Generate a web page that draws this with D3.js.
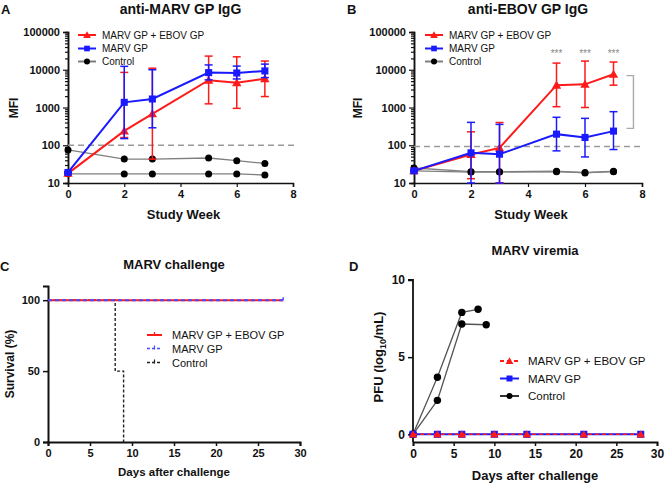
<!DOCTYPE html>
<html><head><meta charset="utf-8">
<script src="https://cdn.jsdelivr.net/npm/d3@7"></script>
<style>
body{margin:0;background:#fff;}
svg{display:block;font-family:Arial,"Liberation Sans",Helvetica,sans-serif;}
</style></head>
<body><svg id="chart" width="670" height="488"></svg>
<script>
// ---------- DATA ----------
const weeks = [0, 2, 3, 5, 6, 7];
const seriesNames = ["MARV GP + EBOV GP", "MARV GP", "Control"];

// Panel A: anti-MARV GP IgG (MFI)
const aDualMean = [18, 240, 680, 5300, 4500, 5800];
const aDualLo   = [17, 160, 43, 1250, 950, 1950];
const aDualHi   = [19, 8500, 11000, 23000, 22000, 17000];
const aMarvMean = [19, 1370, 1680, 8400, 8200, 9300];
const aMarvLo   = [18, 150, 290, 5400, 5700, 6200];
const aMarvHi   = [20, 12300, 10000, 13400, 12500, 14100];
const aCtrl1    = [75, 43, 43, 46, 39, 33];
const aCtrl2    = [17.5, 17.4, 17.4, 17.4, 17.4, 16.3];
const aCutoff   = 100;

// Panel B: anti-EBOV GP IgG (MFI)
const bDualMean = [21, 57, 85, 3900, 4100, 7600];
const bDualLo   = [20, 13, 10, 1050, 1000, 3900];
const bDualHi   = [22, 227, 400, 15000, 17000, 16000];
const bMarvMean = [21, 63, 58, 197, 161, 237];
const bMarvLo   = [20, 10, 10, 71, 49, 77];
const bMarvHi   = [22, 404, 357, 550, 516, 775];
const bCtrl1    = [25, 20, 20, 20.5, 18.5, 20.5];
const bCtrl2    = [21, 19.5, 19.5, 20, 19, 20];
const bCutoff   = 93;
const bSigWeeks = [5, 6, 7];
const bSigLabel = "***";

const mfiTicks = [10, 100, 1000, 10000, 100000];
const weekTicks = [0, 2, 4, 6, 8];

// Panel C: MARV challenge survival (%)
const survDualDays = [0, 28], survDualPct = [100, 100];
const survMarvDays = [0, 28], survMarvPct = [100, 100];
const survCtrlDays = [0, 8, 9], survCtrlPct = [100, 50, 0];
const survTicks = [0, 50, 100];
const dayTicks = [0, 5, 10, 15, 20, 25, 30];

// Panel D: MARV viremia PFU (log10/mL)
const viremiaDays = [0, 3, 6, 10, 14, 21, 28];
const viremiaDual = [0, 0, 0, 0, 0, 0, 0];
const viremiaMarv = [0, 0, 0, 0, 0, 0, 0];
const ctrl1Days = [0, 3, 6, 8], ctrl1Pfu = [0, 3.7, 7.9, 8.1];
const ctrl2Days = [0, 3, 6, 9], ctrl2Pfu = [0, 2.2, 7.15, 7.1];
const pfuTicks = [0, 5, 10];

// ---------- STYLE ----------
const RED = "#ff1a1a", BLUE = "#1a1aff", GRAY = "#7f7f7f", DASH = "#9a9a9a";
const svg = d3.select("#chart");

function text(g, x, y, s, o = {}) {
  const t = g.append("text").attr("x", x).attr("y", y).text(s)
    .attr("font-size", o.size || 11).attr("font-weight", o.bold ? "bold" : "normal")
    .attr("text-anchor", o.anchor || "start").attr("fill", o.fill || "#111");
  if (o.rotate) t.attr("transform", `rotate(-90,${x},${y})`);
  return t;
}
function marker(g, type, x, y, color, size) {
  if (type === "circle") {
    g.append("circle").attr("cx", x).attr("cy", y).attr("r", size).attr("fill", color);
  } else {
    const sym = type === "square" ? d3.symbolSquare : d3.symbolTriangle;
    g.append("path").attr("d", d3.symbol().type(sym).size(size)())
      .attr("transform", `translate(${x},${y + (type === "triangle" ? 0.8 : 0)})`).attr("fill", color);
  }
}

// ---------- PANELS A & B ----------
function igPanel(cfg) {
  const g = svg.append("g");
  const x = d3.scaleLinear().domain([0, 8]).range([cfg.x0, cfg.x1]);
  const y = d3.scaleLog().domain([10, 100000]).range([183, 32]);

  // axes
  const xAxis = d3.axisBottom(x).tickValues(weekTicks).tickSize(4).tickFormat(d3.format("d"));
  const xa = g.append("g").attr("transform", "translate(0,183)").call(xAxis);
  const yMinor = [];
  for (let e = 1; e < 5; e++) for (let m = 2; m < 10; m++) yMinor.push(m * Math.pow(10, e));
  g.append("g").attr("transform", `translate(${cfg.x0},0)`)
    .call(d3.axisLeft(y).tickValues(yMinor).tickSize(3).tickFormat(""));
  const ya = g.append("g").attr("transform", `translate(${cfg.x0},0)`)
    .call(d3.axisLeft(y).tickValues(mfiTicks).tickSize(5).tickFormat(d3.format("d")));
  [xa, ya].forEach(a => {
    a.selectAll("text").attr("font-size", 11).attr("font-weight", "bold").attr("fill", "#111")
      .attr("font-family", "Arial, Liberation Sans, sans-serif");
  });
  g.selectAll(".domain").attr("stroke", "#111").attr("stroke-width", 1.5);
  g.selectAll(".tick line").attr("stroke", "#111").attr("stroke-width", 1.2);

  // cutoff
  g.append("line").attr("x1", cfg.x0).attr("x2", cfg.x1 + 2)
    .attr("y1", y(cfg.cutoff)).attr("y2", y(cfg.cutoff))
    .attr("stroke", DASH).attr("stroke-width", 1.6).attr("stroke-dasharray", "6,4");

  const line = d3.line().x(d => x(d[0])).y(d => y(d[1]));
  // control
  cfg.ctrl.forEach(c => {
    const pts = weeks.map((w, i) => [w, c[i]]);
    g.append("path").attr("d", line(pts)).attr("fill", "none").attr("stroke", GRAY).attr("stroke-width", 1.3);
    pts.forEach(p => marker(g, "circle", x(p[0]), y(p[1]), "#000", 3.5));
  });
  // groups
  const groups = [
    { mean: cfg.dualMean, lo: cfg.dualLo, hi: cfg.dualHi, color: RED, sym: "triangle", size: 38 },
    { mean: cfg.marvMean, lo: cfg.marvLo, hi: cfg.marvHi, color: BLUE, sym: "square", size: 50 }
  ];
  groups.forEach(s => {
    const pts = weeks.map((w, i) => [w, s.mean[i]]);
    weeks.forEach((w, i) => {
      const xx = x(w), lo = y(Math.max(10, s.lo[i])), hi = y(s.hi[i]);
      g.append("line").attr("x1", xx).attr("x2", xx).attr("y1", lo).attr("y2", hi)
        .attr("stroke", s.color).attr("stroke-width", 1.5);
      [lo, hi].forEach(yy => g.append("line").attr("x1", xx - 4).attr("x2", xx + 4)
        .attr("y1", yy).attr("y2", yy).attr("stroke", s.color).attr("stroke-width", 1.5));
    });
    g.append("path").attr("d", line(pts)).attr("fill", "none").attr("stroke", s.color).attr("stroke-width", 2);
    pts.forEach(p => marker(g, s.sym, x(p[0]), y(p[1]), s.color, s.size));
  });

  // significance
  if (cfg.sig) {
    cfg.sig.forEach(w => text(g, x(w), 57, bSigLabel, { size: 10, anchor: "middle", fill: "#888" }));
    const bx = x(7.7);
    g.append("path").attr("d", `M${bx - 7},${y(7000)}H${bx}V${y(280)}H${bx - 7}`)
      .attr("fill", "none").attr("stroke", "#aaa").attr("stroke-width", 1.4);
  }

  // legend
  const lx = cfg.legX;
  const lsy = [35, 48.5, 61.5];
  const legItems = [[RED, "triangle", 26], [BLUE, "square", 32], [GRAY, "circle", 3]];
  legItems.forEach((it, i) => {
    g.append("line").attr("x1", lx).attr("x2", lx + 18).attr("y1", lsy[i]).attr("y2", lsy[i])
      .attr("stroke", it[0]).attr("stroke-width", 2);
    marker(g, it[1], lx + 9, lsy[i], it[1] === "circle" ? "#000" : it[0], it[2]);
    text(g, lx + 24, lsy[i] + 3.7, seriesNames[i], { size: 10 });
  });

  // titles
  text(g, (cfg.x0 + cfg.x1) / 2, 14, cfg.title, { size: 14, bold: true, anchor: "middle" });
  text(g, cfg.letterX, 14, cfg.letter, { size: 13, bold: true });
  text(g, (cfg.x0 + cfg.x1) / 2 + 3, 219, "Study Week", { size: 13, bold: true, anchor: "middle" });
  text(g, cfg.yLabX, 108, "MFI", { size: 12, bold: true, anchor: "middle", rotate: true });
}

igPanel({ x0: 68, x1: 293, cutoff: aCutoff, ctrl: [aCtrl1, aCtrl2],
  dualMean: aDualMean, dualLo: aDualLo, dualHi: aDualHi,
  marvMean: aMarvMean, marvLo: aMarvLo, marvHi: aMarvHi,
  legX: 78, title: "anti-MARV GP IgG", letter: "A", letterX: 1, yLabX: 18 });
igPanel({ x0: 414, x1: 642, cutoff: bCutoff, ctrl: [bCtrl1, bCtrl2],
  dualMean: bDualMean, dualLo: bDualLo, dualHi: bDualHi,
  marvMean: bMarvMean, marvLo: bMarvLo, marvHi: bMarvHi, sig: bSigWeeks,
  legX: 425, title: "anti-EBOV GP IgG", letter: "B", letterX: 347, yLabX: 362 });

// ---------- PANEL C ----------
(function () {
  const g = svg.append("g");
  const x = d3.scaleLinear().domain([0, 30]).range([48, 300]);
  const y = d3.scaleLinear().domain([0, 110]).range([442, 286]);
  const xa = g.append("g").attr("transform", "translate(0,442)")
    .call(d3.axisBottom(x).tickValues(dayTicks).tickSize(4));
  const ya = g.append("g").attr("transform", "translate(48,0)")
    .call(d3.axisLeft(y).tickValues(survTicks).tickSize(5));
  [xa, ya].forEach(a => a.selectAll("text").attr("font-size", 11).attr("font-weight", "bold")
    .attr("fill", "#111").attr("font-family", "Arial, Liberation Sans, sans-serif"));
  g.selectAll(".domain").attr("stroke", "#111").attr("stroke-width", 2);
  g.selectAll(".tick line").attr("stroke", "#111").attr("stroke-width", 1.5);

  const step = d3.line().x(d => x(d[0])).y(d => y(d[1])).curve(d3.curveStepAfter);
  const ctrlPts = survCtrlDays.map((d, i) => [d, survCtrlPct[i]]);
  g.append("path").attr("d", step(ctrlPts)).attr("fill", "none").attr("stroke", "#222")
    .attr("stroke-width", 1.4).attr("stroke-dasharray", "3,2");
  const dualPts = survDualDays.map((d, i) => [d, survDualPct[i]]);
  g.append("path").attr("d", step(dualPts)).attr("fill", "none").attr("stroke", RED).attr("stroke-width", 2);
  const marvPts = survMarvDays.map((d, i) => [d, survMarvPct[i]]);
  g.append("path").attr("d", step(marvPts)).attr("fill", "none").attr("stroke", "#4a4aff")
    .attr("stroke-width", 2).attr("stroke-dasharray", "4,3");
  // censor tick at end
  const last = marvPts[marvPts.length - 1];
  g.append("line").attr("x1", x(last[0])).attr("x2", x(last[0])).attr("y1", y(last[1])).attr("y2", y(last[1]) - 3)
    .attr("stroke", "#4a4aff").attr("stroke-width", 1.5);

  // legend
  const ly = [335, 348.5, 362.5];
  const styles = [[RED, null, 2], ["#4a4aff", "3,2", 1.6], ["#222", "3,2", 1.6]];
  styles.forEach((s, i) => {
    const l = g.append("line").attr("x1", 147).attr("x2", 162).attr("y1", ly[i]).attr("y2", ly[i])
      .attr("stroke", s[0]).attr("stroke-width", s[2]);
    if (s[1]) l.attr("stroke-dasharray", s[1]);
    g.append("line").attr("x1", 154.5).attr("x2", 154.5).attr("y1", ly[i] - 3).attr("y2", ly[i] + 1)
      .attr("stroke", s[0]).attr("stroke-width", 1.2);
    text(g, 172, ly[i] + 4, seriesNames[i], { size: 11 });
  });

  text(g, 174, 269, "MARV challenge", { size: 13, bold: true, anchor: "middle" });
  text(g, 0, 271, "C", { size: 13, bold: true });
  text(g, 174, 476, "Days after challenge", { size: 11.5, bold: true, anchor: "middle" });
  text(g, 14, 364, "Survival (%)", { size: 12, bold: true, anchor: "middle", rotate: true });
})();

// ---------- PANEL D ----------
(function () {
  const g = svg.append("g");
  const x = d3.scaleLinear().domain([0, 30]).range([413, 657]);
  const y = d3.scaleLinear().domain([0, 10]).range([434.3, 280]);
  const xa = g.append("g").attr("transform", "translate(0,442)")
    .call(d3.axisBottom(x).tickValues(dayTicks).tickSize(4));
  const ya = g.append("g").attr("transform", "translate(413,0)")
    .call(d3.axisLeft(y).tickValues(pfuTicks).tickSize(5));
  ya.select(".domain").attr("d", `M-5,${y(10)}H0V442`);
  [xa, ya].forEach(a => a.selectAll("text").attr("font-size", 12).attr("font-weight", "bold")
    .attr("fill", "#111").attr("font-family", "Arial, Liberation Sans, sans-serif"));
  g.selectAll(".domain").attr("stroke", "#111").attr("stroke-width", 1.8);
  g.selectAll(".tick line").attr("stroke", "#111").attr("stroke-width", 1.5);

  const line = d3.line().x(d => x(d[0])).y(d => y(d[1]));
  [[ctrl1Days, ctrl1Pfu], [ctrl2Days, ctrl2Pfu]].forEach(c => {
    const pts = c[0].map((d, i) => [d, c[1][i]]);
    g.append("path").attr("d", line(pts)).attr("fill", "none").attr("stroke", "#555").attr("stroke-width", 1.3);
    pts.forEach(p => marker(g, "circle", x(p[0]), y(p[1]), "#000", 3.7));
  });
  const marvPts = viremiaDays.map((d, i) => [d, viremiaMarv[i]]);
  g.append("path").attr("d", line(marvPts)).attr("fill", "none").attr("stroke", BLUE).attr("stroke-width", 2);
  marvPts.forEach(p => marker(g, "square", x(p[0]), y(p[1]), BLUE, 50));
  const dualPts = viremiaDays.map((d, i) => [d, viremiaDual[i]]);
  g.append("path").attr("d", line(dualPts)).attr("fill", "none").attr("stroke", RED)
    .attr("stroke-width", 1.6).attr("stroke-dasharray", "4,3");
  dualPts.forEach(p => marker(g, "triangle", x(p[0]), y(p[1]), RED, 30));

  const ly = [361, 378.5, 396];
  const items = [[RED, "triangle", 26, "4,3"], [BLUE, "square", 36, null], ["#333", "circle", 3, null]];
  items.forEach((it, i) => {
    const l = g.append("line").attr("x1", 500).attr("x2", 519).attr("y1", ly[i]).attr("y2", ly[i])
      .attr("stroke", it[0]).attr("stroke-width", 2);
    if (it[3]) l.attr("stroke-dasharray", it[3]);
    marker(g, it[1], 509.5, ly[i], it[1] === "circle" ? "#000" : it[0], it[2]);
    text(g, 528, ly[i] + 4.2, seriesNames[i], { size: 11.5 });
  });

  text(g, 535, 255, "MARV viremia", { size: 13, bold: true, anchor: "middle" });
  text(g, 349, 271, "D", { size: 13, bold: true });
  text(g, 535, 480, "Days after challenge", { size: 13, bold: true, anchor: "middle" });
  const yl = g.append("text").attr("transform", "translate(383,357) rotate(-90)")
    .attr("text-anchor", "middle").attr("font-size", 13).attr("font-weight", "bold").attr("fill", "#111");
  yl.append("tspan").text("PFU (log");
  yl.append("tspan").text("10").attr("font-size", 9).attr("dy", 3);
  yl.append("tspan").text("/mL)").attr("dy", -3);
})();
</script></body></html>
